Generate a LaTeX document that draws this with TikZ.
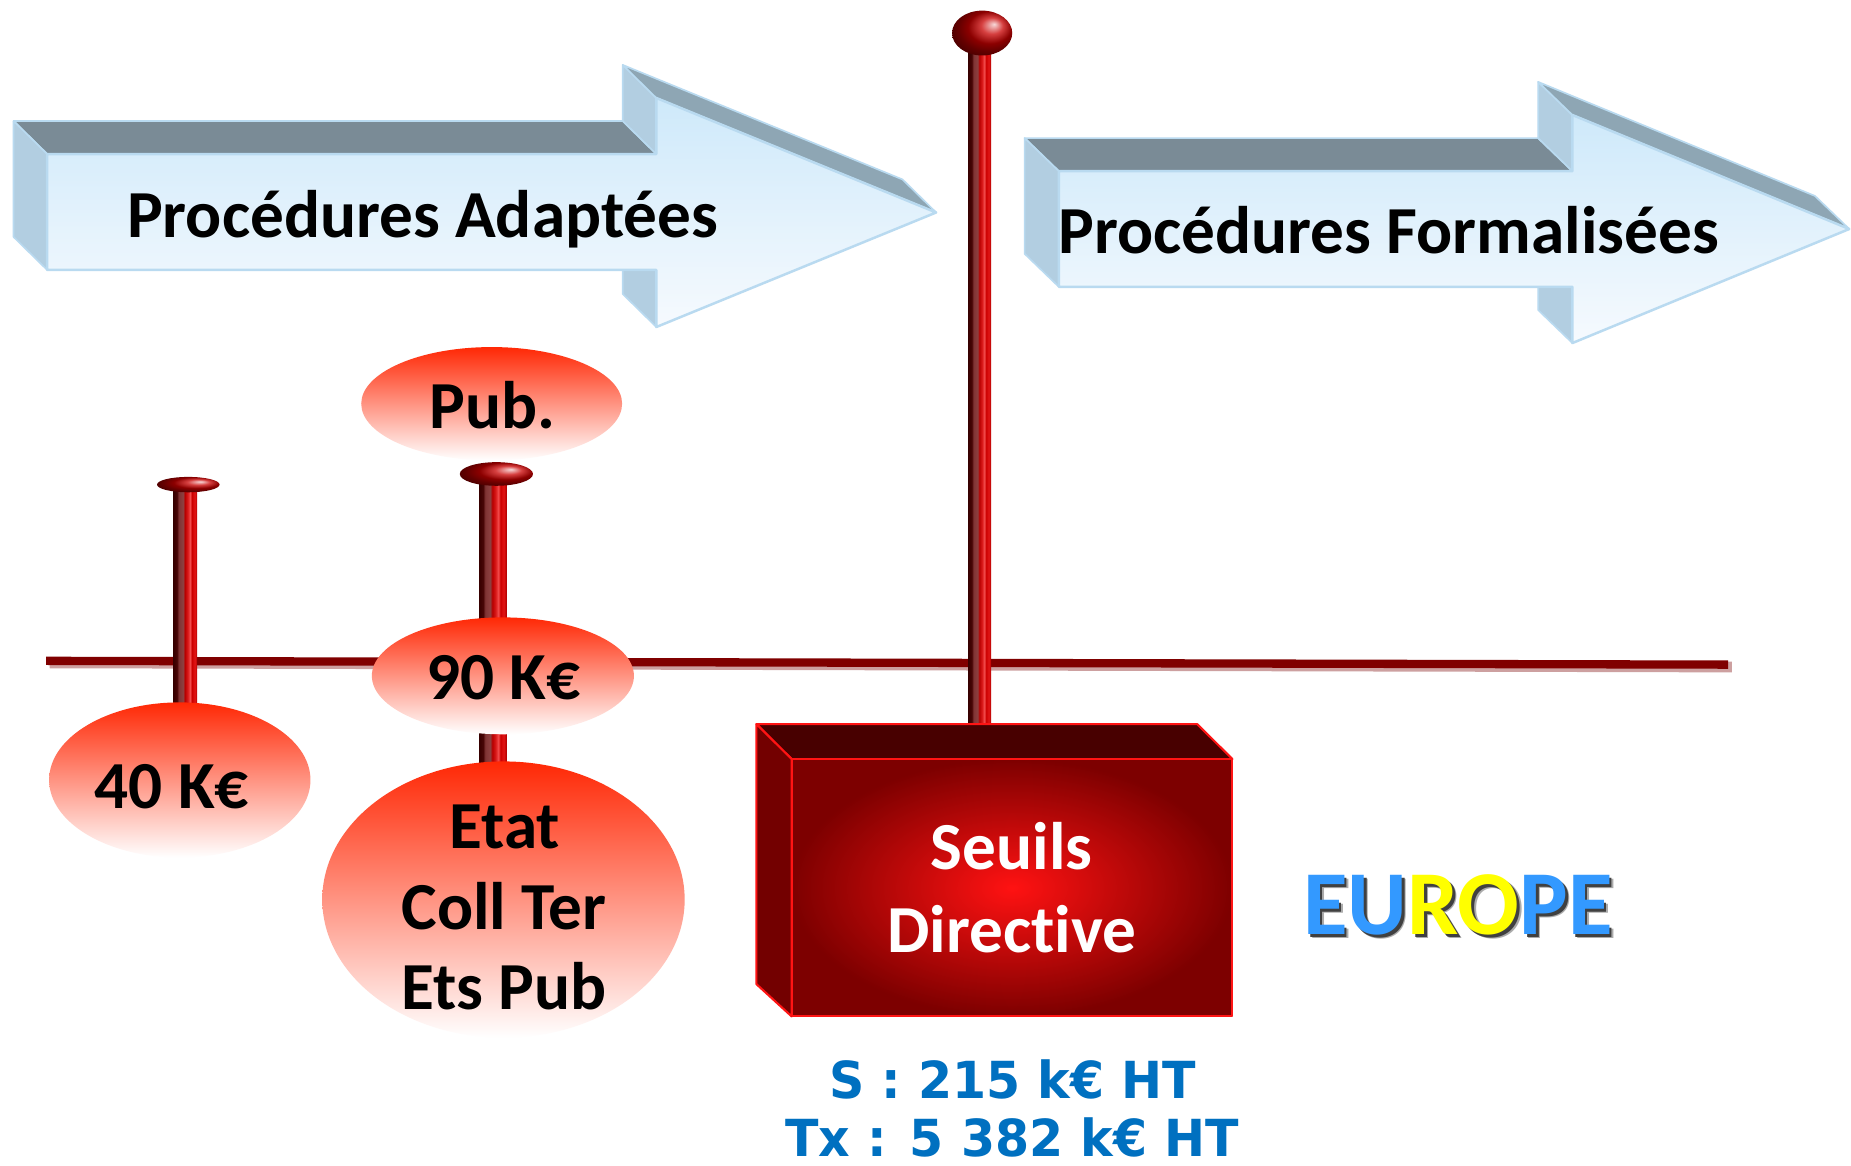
\documentclass[tikz,border=0pt]{standalone}
\usepackage{fontspec}
\setmainfont{Carlito}[Ligatures={NoCommon,NoContextual}]
\newfontfamily\dejab{DejaVu Sans}
\usetikzlibrary{shapes.geometric}
\definecolor{topf}{RGB}{122,139,150}
\definecolor{sidef}{RGB}{178,206,225}
\definecolor{slantf}{RGB}{142,166,180}
\definecolor{fronttop}{RGB}{206,233,250}
\definecolor{frontbot}{RGB}{246,250,254}
\definecolor{arredge}{RGB}{185,218,240}
\definecolor{axdark}{RGB}{128,0,0}
\definecolor{axpale}{RGB}{205,160,160}
\definecolor{capred}{RGB}{200,0,0}
\definecolor{elltop}{RGB}{255,40,5}
\definecolor{boxtop}{RGB}{72,0,0}
\definecolor{boxleft}{RGB}{115,0,0}
\definecolor{boxin}{RGB}{255,18,18}
\definecolor{boxout}{RGB}{125,0,0}
\definecolor{boxedge}{RGB}{255,20,20}
\definecolor{blueT}{RGB}{0,112,192}
\definecolor{eublue}{RGB}{51,153,255}
\definecolor{euyel}{RGB}{255,255,0}
\pgfdeclarehorizontalshading{pole}{100bp}{
rgb(0bp)=(0.22,0,0);
rgb(25bp)=(0.22,0,0);
rgb(32bp)=(0.28,0.02,0.02);
rgb(36bp)=(0.5,0.2,0.2);
rgb(45bp)=(0.55,0.25,0.25);
rgb(49bp)=(0.72,0,0);
rgb(55bp)=(0.85,0.1,0.1);
rgb(60bp)=(0.95,0.3,0.3);
rgb(64bp)=(0.8,0,0);
rgb(70bp)=(0.88,0.08,0.08);
rgb(75bp)=(0.7,0,0);
rgb(100bp)=(0.7,0,0)}
\begin{document}
\begin{tikzpicture}[x=0.01cm,y=-0.01cm,
  lbl/.style={font=\fontsize{16.2}{19}\selectfont\bfseries, inner sep=0pt, anchor=base},
  wlbl/.style={lbl, text=white},
  blbl/.style={font=\dejab\bfseries\fontsize{12.3}{15}\selectfont, text=blueT, inner sep=0pt, anchor=base, text depth=0pt, xscale=0.96},
  eur/.style={font=\fontsize{22}{26}\selectfont\bfseries, inner sep=0pt, anchor=base},
  arrfront/.style={top color=fronttop, bottom color=frontbot, draw=arredge, line width=0.6pt, line join=round},
  arrtop/.style={fill=topf, draw=arredge, line width=0.4pt, line join=round},
  arrside/.style={fill=sidef, draw=arredge, line width=0.4pt, line join=round},
  arrslant/.style={fill=slantf, draw=arredge, line width=0.4pt, line join=round},
  redell/.style={top color=elltop, bottom color=white},
  polesh/.style={shading=pole},
  capsh/.style={ball color=capred, shading angle=-90},
  boxline/.style={draw=boxedge, line width=0.5pt, line join=round}
]
\useasboundingbox (0,0) rectangle (1568,987);
\fill[white] (0,0) rectangle (1568,987);

% ---- Arrow 1: Procédures Adaptées
\path[arrtop] (11.5,102.5) -- (527.5,102.5) -- (556,130.5) -- (40,130.5) -- cycle;
\path[arrside] (11.5,102.5) -- (40,130.5) -- (40,228.7) -- (11.5,200.7) -- cycle;
\path[arrside] (527.5,55) -- (556,83) -- (556,130.5) -- (527.5,102.5) -- cycle;
\path[arrslant] (527.5,55) -- (764.5,152) -- (793,180) -- (556,83) -- cycle;
\path[arrside] (527.5,228.7) -- (556,228.7) -- (556,277) -- (527.5,249) -- cycle;
\shade[arrfront] (40,130.5) -- (556,130.5) -- (556,83) -- (793,180) -- (556,277) -- (556,228.7) -- (40,228.7) -- cycle;
\node[lbl] (pa) at (358,201) {Procédures Adaptées};

% ---- Arrow 2: Procédures Formalisées
\path[arrtop] (868,117) -- (1303,117) -- (1332,145) -- (897,145) -- cycle;
\path[arrside] (868,117) -- (897,145) -- (897,243) -- (868,215) -- cycle;
\path[arrside] (1303,69.4) -- (1332,97.4) -- (1332,145) -- (1303,117) -- cycle;
\path[arrslant] (1303,69.4) -- (1537.5,166) -- (1566.5,194) -- (1332,97.4) -- cycle;
\path[arrside] (1303,243) -- (1332,243) -- (1332,290.6) -- (1303,262.6) -- cycle;
\shade[arrfront] (897,145) -- (1332,145) -- (1332,97.4) -- (1566.5,194) -- (1332,290.6) -- (1332,243) -- (897,243) -- cycle;
\node[lbl] (pf) at (1176.5,215) {Procédures Formalisées};

% ---- axis line
\draw[axpale, line width=2.6pt] (42,561.5) -- (1467,565);
\draw[axdark, line width=2pt] (39,559.8) -- (1464,563);

% ---- poles
\shade[polesh] (147,410) rectangle (167,612);
\shade[polesh] (406,401) rectangle (429,665);
\shade[polesh] (820.5,28) rectangle (839.5,625);

% ---- caps
\shade[capsh] (159.5,410.5) ellipse [x radius=26.5, y radius=6.5];
\shade[capsh] (420.5,401.5) ellipse [x radius=31, y radius=10];
\shade[capsh] (832,28) ellipse [x radius=25.5, y radius=19];

% ---- ellipses
\shade[redell] (416.5,342) ellipse [x radius=110.5, y radius=48];
\shade[redell] (426,572.5) ellipse [x radius=111, y radius=49.5];
\shade[redell] (152.3,660.7) ellipse [x radius=110.7, y radius=65.7];
\shade[redell] (426.5,762) ellipse [x radius=153.5, y radius=117];

\node[lbl] (pub) at (417,363) {Pub.};
\node[lbl] (k90) at (426.3,592.6) {90 K€};
\node[lbl] (k40) at (145.5,685.2) {40 K€};
\node[lbl] (etat) at (427.5,718.4) {Etat};
\node[lbl] (coll) at (427,787.1) {Coll Ter};
\node[lbl] (ets) at (427,855.2) {Ets Pub};

% ---- box
\path[fill=boxtop, boxline] (640.8,613.4) -- (1014.2,613.4) -- (1044,643) -- (670.6,643) -- cycle;
\path[fill=boxleft, boxline] (640.8,613.4) -- (670.6,643) -- (670.6,861) -- (640.8,833.7) -- cycle;
\shade[inner color=boxin, outer color=boxout, boxline] (670.6,643) rectangle (1044,861);
\node[wlbl] (seuils) at (857,736.5) {Seuils};
\node[wlbl] (dir) at (857.3,806.8) {Directive};

% ---- blue thresholds
\node[blbl] (s215) at (857.7,930.5) {S : 215 k€ HT};
\node[blbl] (tx) at (857.4,980) {Tx : 5 382 k€ HT};

% ---- EUROPE
\node[eur, text=black!55, opacity=0.6] (eursh2) at (1238.5,795) {EUROPE};
\node[eur, text=black!75] (eursh) at (1237.3,794) {EUROPE};
\node[eur] (euro) at (1235,792) {\textcolor{eublue}{EU}\textcolor{euyel}{RO}\textcolor{eublue}{PE}};
\end{tikzpicture}
\end{document}
